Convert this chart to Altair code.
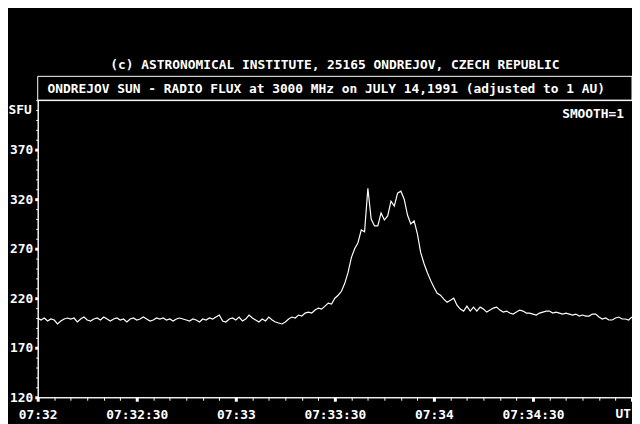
import altair as alt
import pandas as pd

# Radio flux (SFU), one sample per second from 07:32:00 to 07:35:00 UT
flux = [
    200, 198, 200, 197, 199, 198, 194, 197, 199, 200,
    199, 200, 196, 199, 201, 198, 197, 199, 200, 198,
    201, 199, 197, 199, 200, 198, 199, 196, 199, 200,
    198, 199, 201, 199, 197, 198, 200, 199, 200, 198,
    199, 197, 199, 200, 199, 198,
    197, 199, 198, 196, 199, 198, 200, 199, 201, 203,
    197, 196, 199, 200, 198, 201, 197, 199, 203, 200,
    198, 196, 199, 197, 201, 198, 196, 195, 194, 196,
    199, 201, 200, 203, 202, 205, 206, 205, 208, 210,
    209, 212, 215, 214,
    220, 223, 227, 235, 246, 261, 270, 276, 289, 287,
    331, 300, 293, 293, 306, 299, 303, 318, 313, 326,
    328, 320, 304, 295, 298, 285, 266, 255, 246, 238,
    231, 225, 223, 219, 216, 218, 220, 213, 209, 207,
    212, 207, 211, 207, 211,
    209, 206, 208, 210, 211, 208, 206, 207, 205, 204,
    206, 208, 207, 205, 205, 204, 203, 205, 206, 207,
    207, 205, 206, 205, 204, 205, 204, 203, 204, 202,
    203, 202, 202, 204, 204, 201, 199, 200, 198, 198,
    200, 201, 199, 199, 198, 201,
]
seconds = list(range(len(flux)))

x_major = [0, 30, 60, 90, 120, 150, 180]
x_labels = ["07:32", "07:32:30", "07:33", "07:33:30", "07:34", "07:34:30"]
x_minor = list(range(0, 181, 5))
y_major = [120, 170, 220, 270, 320, 370]
y_minor = list(range(120, 421, 10))

top_title = "(c) ASTRONOMICAL INSTITUTE, 25165 ONDREJOV, CZECH REPUBLIC"
box_title = "ONDREJOV SUN - RADIO FLUX at 3000 MHz on JULY 14,1991 (adjusted to 1 AU)"

FONT = "DejaVu Sans Mono"
W, H = 600, 300

df = pd.DataFrame({"t": seconds, "sfu": flux})
xscale = alt.Scale(domain=[0, 180], nice=False, zero=False)
yscale = alt.Scale(domain=[120, 420], nice=False, zero=False)

label_expr = "datum.value < 180 ? " + str(x_labels) + "[round(datum.value/30)] : ''"

common_axis = dict(grid=False, title=None, tickColor="white", domainColor="white",
                   labelColor="white", labelFont=FONT, labelFontSize=13,
                   labelFontWeight="bold")

line = alt.Chart(df).mark_line(color="white", strokeWidth=1.2, clip=True).encode(
    x=alt.X("t:Q", scale=xscale, axis=alt.Axis(
        values=x_major, labelExpr=label_expr, tickSize=4, tickWidth=3,
        labelPadding=7, labelFlush=False, labelOverlap=False, orient="bottom",
        **common_axis)),
    y=alt.Y("sfu:Q", scale=yscale, axis=alt.Axis(
        values=y_major, tickSize=3, tickWidth=3, labelPadding=2,
        labelOverlap=False, orient="left", **common_axis)),
)

minor = alt.Chart(df).mark_line(opacity=0).encode(
    x=alt.X("t:Q", scale=xscale, axis=alt.Axis(
        values=x_minor, labels=False, domain=False, tickSize=3, tickWidth=1,
        orient="bottom", grid=False, title=None, tickColor="white")),
    y=alt.Y("sfu:Q", scale=yscale, axis=alt.Axis(
        values=y_minor, labels=False, domain=False, tickSize=2, tickWidth=1,
        orient="left", grid=False, title=None, tickColor="white")),
)

one = pd.DataFrame({"a": [0]})

box = alt.Chart(one).mark_rect(fillOpacity=0, stroke="white", strokeWidth=1).encode(
    x=alt.value(0), x2=alt.value(W), y=alt.value(-24), y2=alt.value(0))


def label(txt, x, y, align, baseline="middle"):
    return alt.Chart(one).mark_text(
        text=txt, color="white", font=FONT, fontSize=13, fontWeight="bold",
        align=align, baseline=baseline).encode(x=alt.value(x), y=alt.value(y))


texts = [
    label(top_title, 300, -35, "center"),
    label(box_title, 10, -11, "left"),
    label("SMOOTH=1", 592, 14, "right"),
    label("SFU", -6, 10, "right"),
    label("UT", 599, 311, "right", "top"),
]

chart = alt.layer(minor, line, box, *texts).resolve_axis(
    x="independent", y="independent"
).properties(
    width=W, height=H,
    background="black",
    padding={"left": 30, "top": 91, "right": 0, "bottom": 25},
    autosize=alt.AutoSizeParams(type="none"),
).configure_view(stroke="white", strokeWidth=1)

chart.save("out.html", embed_options={"renderer": "svg", "actions": False})
